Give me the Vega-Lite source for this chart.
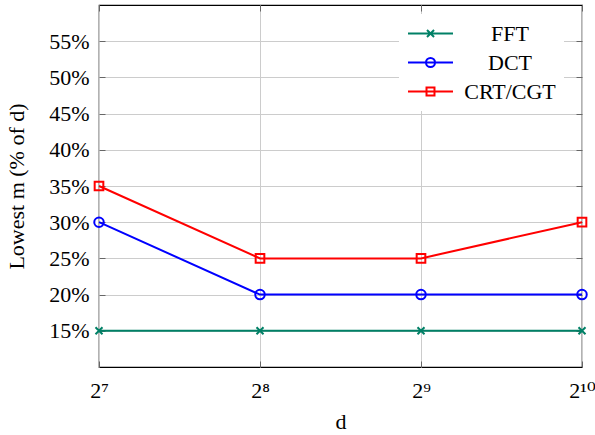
{
  "$schema": "https://vega.github.io/schema/vega-lite/v6.json",
  "width": 483,
  "height": 362,
  "autosize": "none",
  "padding": {"left": 99, "top": 5, "right": 13, "bottom": 68},
  "background": "white",
  "config": {
    "font": "Liberation Serif",
    "view": {"stroke": "black", "strokeWidth": 1.2},
    "axis": {"labelFont": "Liberation Serif", "titleFont": "Liberation Serif", "labelFontSize": 22, "titleFontSize": 22, "titleFontWeight": "normal", "labelColor": "black", "titleColor": "black"}
  },
  "data": {
    "values": [
      {"d": 128, "value": 15, "method": "FFT"},
      {"d": 256, "value": 15, "method": "FFT"},
      {"d": 512, "value": 15, "method": "FFT"},
      {"d": 1024, "value": 15, "method": "FFT"},
      {"d": 128, "value": 30, "method": "DCT"},
      {"d": 256, "value": 20, "method": "DCT"},
      {"d": 512, "value": 20, "method": "DCT"},
      {"d": 1024, "value": 20, "method": "DCT"},
      {"d": 128, "value": 35, "method": "CRT/CGT"},
      {"d": 256, "value": 25, "method": "CRT/CGT"},
      {"d": 512, "value": 25, "method": "CRT/CGT"},
      {"d": 1024, "value": 30, "method": "CRT/CGT"}
    ]
  },
  "layer": [
    {
      "mark": {"type": "line", "strokeWidth": 2},
      "encoding": {
        "x": {"field": "d", "type": "quantitative",
          "scale": {"type": "log", "base": 2, "domain": [128, 1024], "nice": false},
          "axis": {"orient": "bottom", "title": "d", "values": [128, 256, 512, 1024],
            "labelFont": "Liberation Serif, DejaVu Serif",
            "labelExpr": "datum.value == 128 ? '2⁷' : datum.value == 256 ? '2⁸' : datum.value == 512 ? '2⁹' : '2¹⁰'",
            "grid": true, "gridColor": "#cccccc", "domain": false, "ticks": true, "tickSize": -6, "tickColor": "#666666",
            "labelPadding": 19, "titlePadding": 10, "labelFlush": false}},
        "y": {"field": "value", "type": "quantitative",
          "scale": {"domain": [10, 60], "nice": false, "zero": false},
          "axis": {"orient": "left", "title": "Lowest m (% of d)", "values": [15, 20, 25, 30, 35, 40, 45, 50, 55],
            "labelFont": "Liberation Serif",
            "labelExpr": "datum.value + '%'",
            "grid": true, "gridColor": "#cccccc", "domain": false, "ticks": true, "tickSize": -6, "tickColor": "#666666",
            "labelPadding": 16, "titlePadding": 20}},
        "color": {"field": "method", "type": "nominal",
          "scale": {"domain": ["FFT", "DCT", "CRT/CGT"], "range": ["#008066", "#0000ff", "#ff0000"]},
          "legend": {
            "orient": "none", "legendX": 300, "legendY": 9, "title": null,
            "fillColor": "white", "padding": 8,
            "labelFont": "Liberation Serif", "labelFontSize": 22, "labelColor": "black",
            "labelAlign": "center", "labelOffset": 80,
            "labelExpr": "'\u00a0\u00a0\u00a0' + datum.label + '\u00a0\u00a0\u00a0'",
            "symbolSize": 441, "symbolStrokeWidth": 2, "rowPadding": 6,
            "encode": {
              "symbols": {"update": {
                "shape": {"signal": "datum.value === 'FFT' ? 'M-1,0H3.286M0.81,-0.33L1.48,0.33M0.81,0.33L1.48,-0.33' : datum.value === 'DCT' ? 'M-1,0H3.286M1.573,0A0.43,0.43,0,1,1,0.713,0A0.43,0.43,0,1,1,1.573,0' : 'M-1,0H3.286M0.763,-0.38H1.523V0.38H0.763Z'"},
                "fill": {"value": "transparent"},
                "strokeWidth": {"value": 2}
              }}
            }
          }}
      }
    },
    {
      "transform": [{"filter": "datum.method === 'FFT'"}],
      "mark": {"type": "point", "shape": "M-1,-1L1,1M-1,1L1,-1", "size": 49, "filled": false, "strokeWidth": 2, "color": "#008066", "opacity": 1},
      "encoding": {
        "x": {"field": "d", "type": "quantitative", "axis": null},
        "y": {"field": "value", "type": "quantitative", "axis": null}
      }
    },
    {
      "transform": [{"filter": "datum.method === 'DCT'"}],
      "mark": {"type": "point", "shape": "circle", "size": 90, "filled": false, "strokeWidth": 2, "color": "#0000ff", "opacity": 1},
      "encoding": {
        "x": {"field": "d", "type": "quantitative", "axis": null},
        "y": {"field": "value", "type": "quantitative", "axis": null}
      }
    },
    {
      "transform": [{"filter": "datum.method === 'CRT/CGT'"}],
      "mark": {"type": "point", "shape": "square", "size": 75, "filled": false, "strokeWidth": 2, "color": "#ff0000", "opacity": 1},
      "encoding": {
        "x": {"field": "d", "type": "quantitative", "axis": null},
        "y": {"field": "value", "type": "quantitative", "axis": null}
      }
    },
    {
      "mark": {"type": "point", "opacity": 0},
      "encoding": {
        "x": {"field": "d", "type": "quantitative",
          "axis": {"orient": "top", "title": null, "values": [128, 256, 512, 1024], "labels": false, "grid": false, "domain": false, "ticks": true, "tickSize": -6, "tickColor": "#666666"}},
        "y": {"field": "value", "type": "quantitative",
          "axis": {"orient": "right", "title": null, "values": [15, 20, 25, 30, 35, 40, 45, 50, 55], "labels": false, "grid": false, "domain": false, "ticks": true, "tickSize": -6, "tickColor": "#666666"}}
      }
    }
  ],
  "resolve": {"axis": {"x": "independent", "y": "independent"}}
}
